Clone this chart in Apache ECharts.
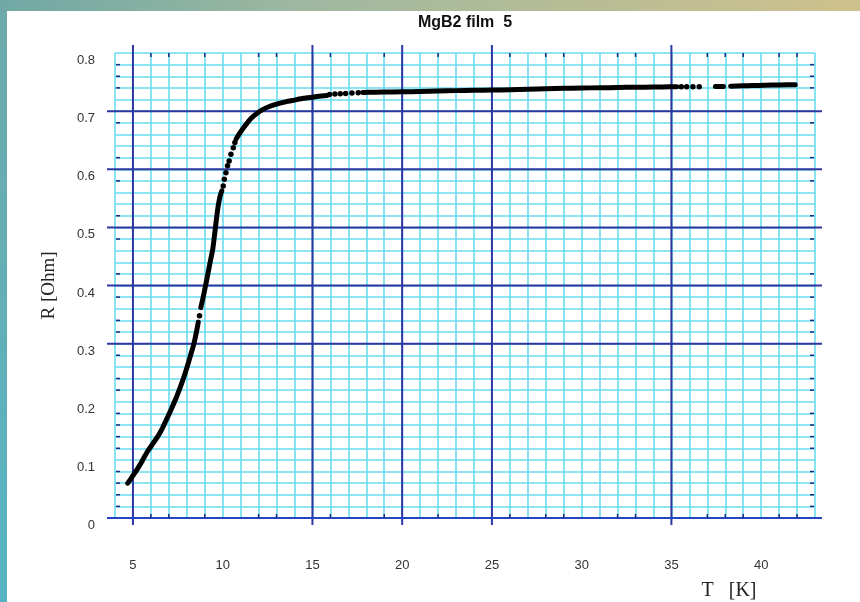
<!DOCTYPE html>
<html>
<head>
<meta charset="utf-8">
<script src="https://cdn.jsdelivr.net/npm/echarts@6/dist/echarts.min.js"></script>
<style>
  html, body { margin: 0; padding: 0; background: #ffffff; }
  #chart { width: 860px; height: 602px; }
</style>
</head>
<body>
<div id="chart"></div>
<script>
// Labels
const chartTitle = 'MgB2 film  5';
const xAxisName = 'T   [K]';
const yAxisName = 'R [Ohm]';

// Resistance curve R(T): dense runs of measurements, null marks a gap between runs
const curveT = [
  4.71, 4.85, 5.0, 5.2, 5.4, 5.6, 5.8, 6.0, 6.2, 6.4, 6.6, 6.8, 7.0, 7.2, 7.4, 7.6, 7.8, 8.0, 8.2, 8.4, 8.55, 8.64, null,
  8.78, 8.9, 9.0, 9.15, 9.3, 9.45, 9.55, 9.65, 9.75, 9.85, 9.95, null,
  10.75, 10.95, 11.15, 11.35, 11.6, 11.9, 12.25, 12.6, 13.0, 13.5, 14.0, 14.5, 15.0, 15.5, 15.8, null,
  17.8, 18.5, 19.5, 20.5, 21.5, 22.5, 23.5, 24.5, 25.5, 26.5, 27.5, 28.5, 29.5, 30.5, 31.5, 32.5, 33.5, 34.5, 35.3, null,
  37.45, 37.9, null,
  38.3, 39.0, 39.5, 40.2, 41.0, 41.9
];
const curveR = [
  0.060, 0.066, 0.073, 0.082, 0.092, 0.103, 0.114, 0.123, 0.132, 0.141, 0.152, 0.165, 0.178, 0.192, 0.206, 0.222, 0.239, 0.258, 0.279, 0.300, 0.322, 0.337, null,
  0.362, 0.378, 0.393, 0.416, 0.440, 0.463, 0.488, 0.514, 0.537, 0.553, 0.563, null,
  0.652, 0.662, 0.671, 0.679, 0.688, 0.696, 0.703, 0.708, 0.712, 0.716, 0.719, 0.722, 0.724, 0.726, 0.727, null,
  0.732, 0.7325, 0.733, 0.7335, 0.734, 0.735, 0.7355, 0.736, 0.7365, 0.737, 0.738, 0.739, 0.7395, 0.740, 0.7403, 0.741, 0.7412, 0.7415, 0.742, null,
  0.7425, 0.7425, null,
  0.743, 0.7435, 0.744, 0.7445, 0.745, 0.7455
];

// Isolated measurements between the dense runs
const dotT = [8.71, 10.03, 10.09, 10.18, 10.27, 10.36, 10.46, 10.59, 10.68,
              15.95, 16.25, 16.55, 16.85, 17.2, 17.55, 35.55, 35.85, 36.2, 36.55];
const dotR = [0.348, 0.571, 0.583, 0.594, 0.606, 0.614, 0.626, 0.637, 0.646,
              0.7285, 0.7295, 0.730, 0.7305, 0.731, 0.7315, 0.742, 0.742, 0.742, 0.742];

// Axis ranges and tick labels
const xMin = 4, xMax = 43, xStep = 1;
const yMin = 0, yMax = 0.8, yStep = 0.02;

// Heavy rulings of the graph paper
const heavyT = [5, 15, 20, 25, 35];
const heavyR = [0.3, 0.4, 0.5, 0.6, 0.7];

// Short tick marks along the frame
const tickT = [6, 7, 9, 12, 13, 16, 19, 22, 26, 28, 29, 32, 33, 37, 38, 39, 41, 42];
const tickR = [0.02, 0.04, 0.06, 0.08, 0.12, 0.14, 0.16, 0.18, 0.22, 0.24, 0.28, 0.32, 0.34,
               0.38, 0.42, 0.48, 0.52, 0.58, 0.62, 0.68, 0.74, 0.76, 0.78];

const chart = echarts.init(document.getElementById('chart'), null, { renderer: 'canvas' });

const curveData = curveT.map((t, i) => (t === null ? [null, null] : [t, curveR[i]]));
const dotData = dotT.map((t, i) => [t, dotR[i]]);

function ruleLine(a, b, color, width) {
  return { type: 'line', shape: { x1: a[0], y1: a[1], x2: b[0], y2: b[1] },
           style: { stroke: color, lineWidth: width } };
}

// vertical rulings reaching a little past the frame
function renderVertical(params, api) {
  const t = api.value(0);
  const a = api.coord([t, yMax]);
  const b = api.coord([t, yMin]);
  return ruleLine([a[0], a[1] - 8], [b[0], b[1] + 7], '#2e36a0', 2);
}
// horizontal rulings reaching a little past the frame
function renderHorizontal(params, api) {
  const r = api.value(1);
  const a = api.coord([xMin, r]);
  const b = api.coord([xMax, r]);
  const color = r === 0 ? '#2445c2' : '#2e36a0';
  return ruleLine([a[0] - 8, a[1]], [b[0] + 7, b[1]], color, 2);
}
function renderTickT(params, api) {
  const t = api.value(0);
  const top = api.coord([t, yMax]);
  const bot = api.coord([t, yMin]);
  return { type: 'group', children: [
    ruleLine([top[0], top[1]], [top[0], top[1] + 4], '#1c2a80', 1.5),
    ruleLine([bot[0], bot[1]], [bot[0], bot[1] - 4], '#1c2a80', 1.5)
  ] };
}
function renderTickR(params, api) {
  const r = api.value(1);
  const l = api.coord([xMin, r]);
  const rr = api.coord([xMax, r]);
  return { type: 'group', children: [
    ruleLine([l[0] + 1, l[1]], [l[0] + 5, l[1]], '#1c2a80', 1.5),
    ruleLine([rr[0] - 1, rr[1]], [rr[0] - 5, rr[1]], '#1c2a80', 1.5)
  ] };
}

const option = {
  animation: false,
  backgroundColor: '#ffffff',
  graphic: [
    { type: 'rect', left: 0, top: 0, shape: { width: 860, height: 11 }, silent: true,
      style: { fill: new echarts.graphic.LinearGradient(0, 0, 1, 0, [
        { offset: 0, color: '#6fa8a4' },
        { offset: 0.35, color: '#9eb8a0' },
        { offset: 0.65, color: '#b5bc96' },
        { offset: 1, color: '#cfc18c' }
      ]) } },
    { type: 'rect', left: 0, top: 11, shape: { width: 7, height: 591 }, silent: true,
      style: { fill: new echarts.graphic.LinearGradient(0, 0, 0, 1, [
        { offset: 0, color: '#6eaaac' },
        { offset: 1, color: '#56b4c2' }
      ]) } },
    { type: 'text', x: 465, y: 23, silent: true,
      style: { text: chartTitle, textAlign: 'center', textVerticalAlign: 'middle',
               font: 'bold 16px "Liberation Sans", Arial, sans-serif', fill: '#111111' } },
    { type: 'text', x: 729, y: 591, silent: true,
      style: { text: xAxisName, textAlign: 'center', textVerticalAlign: 'middle',
               font: '20px "Liberation Serif", "Times New Roman", serif', fill: '#222222' } }
  ],
  grid: { left: 115, right: 45, top: 53, bottom: 84, containLabel: false },
  xAxis: {
    type: 'value', min: xMin, max: xMax, interval: xStep,
    axisLine: { show: false }, axisTick: { show: false },
    splitLine: { show: true, lineStyle: { color: '#6adcef', width: 1.6 } },
    axisLabel: {
      margin: 41, color: '#333333', fontSize: 13,
      fontFamily: '"Liberation Sans", Arial, sans-serif',
      formatter: v => (Math.round(v) % 5 === 0 ? String(Math.round(v)) : '')
    }
  },
  yAxis: {
    type: 'value', min: yMin, max: yMax, interval: yStep,
    name: yAxisName, nameLocation: 'middle', nameGap: 56, nameRotate: 90,
    nameTextStyle: { fontFamily: '"Liberation Serif", "Times New Roman", serif', fontSize: 19, color: '#222222' },
    axisLine: { show: false }, axisTick: { show: false },
    splitLine: { show: true, lineStyle: { color: '#6adcef', width: 1.6 } },
    axisLabel: {
      margin: 20, color: '#333333', fontSize: 13, verticalAlign: 'top', lineHeight: 15,
      fontFamily: '"Liberation Sans", Arial, sans-serif',
      formatter: v => {
        const k = Math.round(v * 50);
        if (k % 5 !== 0) return '';
        return k === 0 ? '0' : (k / 50).toFixed(1);
      }
    }
  },
  series: [
    { type: 'custom', name: 'rulings-v', renderItem: renderVertical, clip: false, z: 2, silent: true,
      data: heavyT.map(t => [t, yMin]) },
    { type: 'custom', name: 'rulings-h', renderItem: renderHorizontal, clip: false, z: 2, silent: true,
      data: [0].concat(heavyR).map(r => [xMin, r]) },
    { type: 'custom', name: 'ticks-t', renderItem: renderTickT, clip: false, z: 2, silent: true,
      data: tickT.map(t => [t, yMin]) },
    { type: 'custom', name: 'ticks-r', renderItem: renderTickR, clip: false, z: 2, silent: true,
      data: tickR.map(r => [xMin, r]) },
    { type: 'line', name: 'R(T)', data: curveData, showSymbol: false, symbol: 'none',
      connectNulls: false, smooth: 0.2, z: 5, silent: true,
      lineStyle: { color: '#000000', width: 5, cap: 'round', join: 'round' } },
    { type: 'scatter', name: 'R(T) points', data: dotData, symbol: 'circle', symbolSize: 5.5,
      z: 6, silent: true, itemStyle: { color: '#000000', opacity: 1 } }
  ]
};

chart.setOption(option);
</script>
</body>
</html>
